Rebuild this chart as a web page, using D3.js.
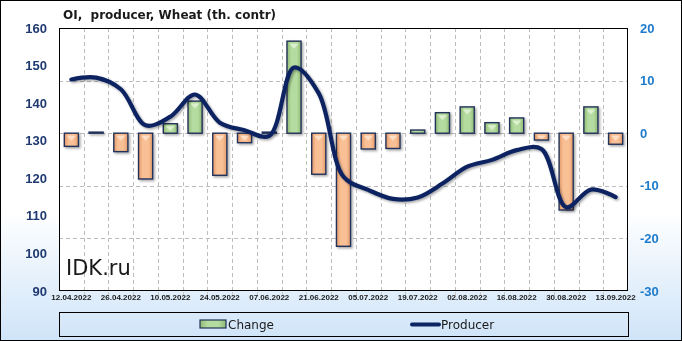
<!DOCTYPE html>
<html><head><meta charset="utf-8">
<script src="https://cdn.jsdelivr.net/npm/d3@7"></script>
<style>html,body{margin:0;padding:0;background:#fff;}svg{display:block;}</style>
</head><body><svg id="c" width="682" height="341"></svg>
<script>
const dates = ["12.04.2022","19.04.2022","26.04.2022","03.05.2022","10.05.2022","17.05.2022","24.05.2022","31.05.2022","07.06.2022","14.06.2022","21.06.2022","28.06.2022","05.07.2022","12.07.2022","19.07.2022","26.07.2022","02.08.2022","09.08.2022","16.08.2022","23.08.2022","30.08.2022","06.09.2022","13.09.2022"];
const change = [-2.5,0.2,-3.5,-8.7,1.8,6.1,-8.0,-1.8,0.2,17.5,-7.8,-21.5,-3.0,-2.9,0.6,3.9,5.0,2.0,2.9,-1.3,-14.6,5.0,-2.1];
const producer = [146.3,146.8,143.7,134.1,136.4,142.3,134.8,132.8,131.3,149.5,142.6,120.4,116.9,114.5,114.9,118.6,123.1,124.9,127.5,127.8,112.3,117.0,115.0];
const leftTicks = [90,100,110,120,130,140,150,160];
const rightTicks = [-30,-20,-10,0,10,20];
const title = "OI,  producer, Wheat (th. contr)";

const W=682,H=341;
const svg=d3.select("#c");
const defs=svg.append("defs");
const bg=defs.append("linearGradient").attr("id","bg").attr("x1",0).attr("y1",0).attr("x2",0).attr("y2",1);
bg.append("stop").attr("offset","0").attr("stop-color","#ffffff");
bg.append("stop").attr("offset","0.62").attr("stop-color","#ffffff");
bg.append("stop").attr("offset","1").attr("stop-color","#cfe4f8");
function hgrad(id,edge,mid){
  const g=defs.append("linearGradient").attr("id",id).attr("x1",0).attr("y1",0).attr("x2",1).attr("y2",0);
  g.append("stop").attr("offset","0").attr("stop-color",edge);
  g.append("stop").attr("offset","0.3").attr("stop-color",mid);
  g.append("stop").attr("offset","0.7").attr("stop-color",mid);
  g.append("stop").attr("offset","1").attr("stop-color",edge);
}
hgrad("gpos","#8fb874","#b5dca0");
hgrad("gneg","#e39a68","#f9c096");
const f=defs.append("filter").attr("id","sh").attr("x","-20%").attr("y","-20%").attr("width","150%").attr("height","150%");
f.append("feDropShadow").attr("dx",1.5).attr("dy",1.5).attr("stdDeviation",1).attr("flood-color","#000").attr("flood-opacity",0.35);

svg.append("rect").attr("x",0.5).attr("y",0.5).attr("width",W-1).attr("height",H-1).attr("fill","url(#bg)").attr("stroke","#000");

const L=59,R=628,T=28,B=291;
const x=d3.scaleBand().domain(dates).range([L,R]).paddingInner(0.43).paddingOuter(0.215);
const xg=d3.scaleBand().domain(dates).range([L,R]);
const yl=d3.scaleLinear().domain([90,160]).range([B,T]);
const yr=d3.scaleLinear().domain([-30,20]).range([B,T]);

svg.append("rect").attr("x",L).attr("y",T).attr("width",R-L).attr("height",B-T).attr("fill","#fff");

// grid
const grid=svg.append("g").attr("stroke","#bdbdbd").attr("stroke-dasharray","4,3").attr("stroke-width",1);
dates.slice(1).forEach(d=>{const gx=Math.round(xg(d))+0.5;grid.append("line").attr("x1",gx).attr("x2",gx).attr("y1",T).attr("y2",B);});
rightTicks.slice(1,-1).forEach(v=>{const gy=Math.round(yr(v))+0.5;grid.append("line").attr("x1",L).attr("x2",R).attr("y1",gy).attr("y2",gy);});
// bottom ticks
const tk=svg.append("g").attr("stroke","#c8c8c8");
dates.slice(1).forEach(d=>{const gx=Math.round(xg(d))+0.5;tk.append("line").attr("x1",gx).attr("x2",gx).attr("y1",B+1).attr("y2",B+5);});

// bars
const y0=yr(0);
const bars=svg.append("g").attr("filter","url(#sh)");
dates.forEach((d,i)=>{
  const v=change[i];
  const bx=x(d),bw=x.bandwidth();
  const top=Math.min(yr(v),y0),h=Math.max(Math.abs(yr(v)-y0),1);
  bars.append("rect").attr("x",bx).attr("y",top).attr("width",bw).attr("height",h)
    .attr("fill",v>=0?"url(#gpos)":"url(#gneg)").attr("stroke","#22325a").attr("stroke-width",1.4);
  if(h>5){
    const inset=2.5;
    const tri=`M${bx+inset},${top+inset} L${bx+bw-inset},${top+inset} L${bx+bw/2},${top+inset+Math.min(5,h/2)} Z`;
    bars.append("path").attr("d",tri).attr("fill",v>=0?"#e0f2d4":"#fde2cc").attr("opacity",0.9);
  }
});

// line
const line=d3.line().x((d,i)=>x(dates[i])+x.bandwidth()/2).y(d=>yl(d)).curve(d3.curveCatmullRom.alpha(0.5));
svg.append("path").datum(producer).attr("d",line).attr("fill","none").attr("stroke","#0c2461").attr("stroke-width",4.2).attr("stroke-linecap","round").attr("filter","url(#sh)");

// plot border
svg.append("rect").attr("x",L+0.5).attr("y",T+0.5).attr("width",R-L-1).attr("height",B-T-1).attr("fill","none").attr("stroke","#000");

// axes labels
const ax=svg.append("g").attr("font-family","'Liberation Sans',Arial,sans-serif").attr("font-weight","bold").attr("font-size",13);
leftTicks.forEach(v=>ax.append("text").attr("x",47).attr("y",yl(v)+4.5).attr("text-anchor","end").attr("fill","#1f3a70").text(v));
rightTicks.forEach(v=>ax.append("text").attr("x",640).attr("y",yr(v)+4.5).attr("text-anchor","start").attr("fill","#1e7bcc").text(v));
const xl=svg.append("g").attr("font-family","'Liberation Sans',Arial,sans-serif").attr("font-weight","bold").attr("font-size",8).attr("fill","#1a1a1a");
dates.forEach((d,i)=>{ if(i%2===0) xl.append("text").attr("x",x(d)+x.bandwidth()/2).attr("y",300).attr("text-anchor","middle").text(d);});

// title
svg.append("text").attr("x",63).attr("y",19).attr("style","white-space:pre").attr("font-family","'DejaVu Sans',sans-serif").attr("font-weight","bold").attr("font-size",12).attr("fill","#1a1a1a").text(title);
// watermark
svg.append("text").attr("x",66).attr("y",275).attr("font-family","'DejaVu Sans',sans-serif").attr("font-size",21).attr("fill","#1a1a1a").text("IDK.ru");

// legend
svg.append("rect").attr("x",59.5).attr("y",312.5).attr("width",569).attr("height",24).attr("fill","none").attr("stroke","#000");
const lg=svg.append("g").attr("font-family","'DejaVu Sans',sans-serif").attr("font-size",12).attr("fill","#1a1a1a");
lg.append("rect").attr("x",200).attr("y",320).attr("width",26).attr("height",8).attr("fill","url(#gpos)").attr("stroke","#22325a").attr("stroke-width",1.2);
lg.append("text").attr("x",228).attr("y",329).text("Change");
lg.append("line").attr("x1",412).attr("x2",439).attr("y1",324.5).attr("y2",324.5).attr("stroke","#0c2461").attr("stroke-width",4).attr("stroke-linecap","round");
lg.append("text").attr("x",441).attr("y",329).text("Producer");
</script></body></html>
